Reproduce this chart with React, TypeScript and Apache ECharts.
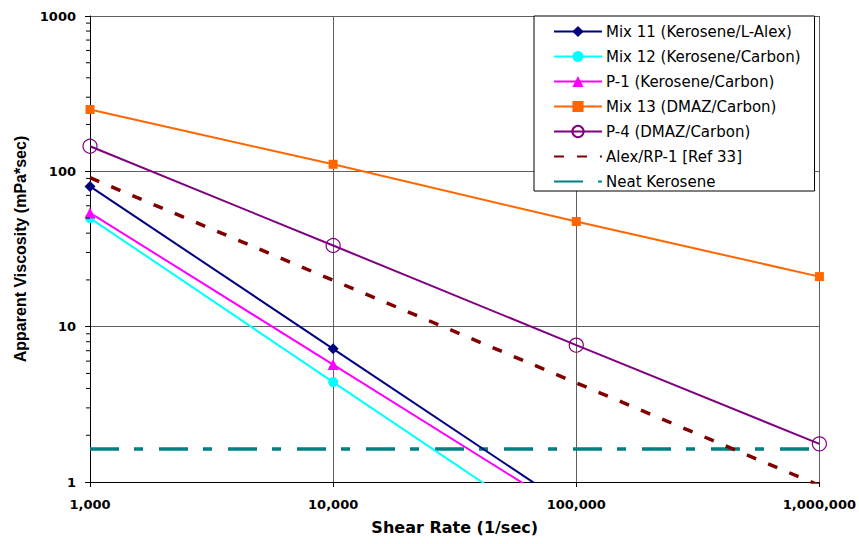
import React, { useEffect, useRef } from "react";
import * as echarts from "echarts";

const shearRates = [1000, 10000, 100000, 1000000];
const mix11 = [80, 7.2, 0.65];
const mix12 = [50, 4.4, 0.39];
const p1 = [54, 5.7, 0.6];
const mix13 = [250, 111, 47.5, 21];
const p4 = [145, 33.3, 7.6, 1.76];
const alexRates = [1000, 1000000];
const alex = [91, 0.95];
const neatRates = [1000, 1000000];
const neat = [1.63, 1.63];
const minorTickValues = [2, 3, 4, 5, 6, 7, 8, 9, 20, 30, 40, 50, 60, 70, 80, 90, 200, 300, 400, 500, 600, 700, 800, 900];

const pair = (xs: number[], ys: number[]) => ys.map((y, i) => [xs[i], y]);

export default function App() {
  const ref = useRef<HTMLDivElement>(null);
  useEffect(() => {
    if (!ref.current) return;
    const chart = echarts.init(ref.current, null, { renderer: "svg" });
    const tickFont = { fontFamily: "DejaVu Sans", fontWeight: "bold" as const, fontSize: 13, color: "#000" };
    chart.setOption({
      animation: false,
      backgroundColor: "#fff",
      grid: { left: 90, right: 38, top: 16, bottom: 62, containLabel: false },
      legend: {
        orient: "vertical",
        left: 534,
        top: 16,
        data: ["Mix 11 (Kerosene/L-Alex)", "Mix 12 (Kerosene/Carbon)", "P-1 (Kerosene/Carbon)", "Mix 13 (DMAZ/Carbon)", "P-4 (DMAZ/Carbon)", "Alex/RP-1 [Ref 33]", "Neat Kerosene"],
        backgroundColor: "#fff",
        borderColor: "#000",
        borderWidth: 1,
        borderRadius: 0,
        padding: [8, 14, 2, 19],
        itemWidth: 48,
        itemHeight: 14,
        itemGap: 10,
        textStyle: { fontFamily: "DejaVu Sans", fontSize: 15, color: "#000", padding: [0, 0, 0, -1] },
      },
      xAxis: {
        type: "log",
        logBase: 10,
        min: 1000,
        max: 1000000,
        name: "Shear Rate (1/sec)",
        nameLocation: "middle",
        nameGap: 37,
        nameTextStyle: { fontFamily: "DejaVu Sans", fontWeight: "bold", fontSize: 16, color: "#000" },
        axisLine: { show: true, lineStyle: { color: "#000", width: 1 } },
        axisTick: { show: true, inside: false, length: 5, lineStyle: { color: "#000" } },
        axisLabel: { ...tickFont, margin: 16, formatter: (v: number) => Number(v).toLocaleString("en-US") },
        splitLine: { show: true, lineStyle: { color: "#606060", width: 1 } },
        minorTick: { show: false },
      },
      yAxis: {
        type: "log",
        logBase: 10,
        min: 1,
        max: 1000,
        name: "Apparent Viscosity (mPa*sec)",
        nameLocation: "middle",
        nameGap: 58,
        nameTextStyle: { fontFamily: "Liberation Sans", fontWeight: "bold", fontSize: 16, color: "#000" },
        axisLine: { show: true, lineStyle: { color: "#000", width: 1 } },
        axisTick: { show: true, inside: false, length: 5, lineStyle: { color: "#000" } },
        axisLabel: { ...tickFont, margin: 14, formatter: (v: number) => String(v) },
        splitLine: { show: true, lineStyle: { color: "#606060", width: 1 } },
      },
      series: [
        {
          name: "Neat Kerosene",
          type: "line",
          data: pair(neatRates, neat),
          showSymbol: false,
          lineStyle: { color: "#008080", width: 3.5, type: [29, 15, 9, 16] },
          itemStyle: { color: "#008080", opacity: 0 },
          z: 2,
        },
        {
          name: "Alex/RP-1 [Ref 33]",
          type: "line",
          data: pair(alexRates, alex),
          showSymbol: false,
          lineStyle: { color: "#800000", width: 3.5, type: [10, 13] },
          itemStyle: { color: "#800000", opacity: 0 },
          z: 2,
        },
        {
          name: "Mix 12 (Kerosene/Carbon)",
          type: "line",
          data: pair(shearRates, mix12),
          symbol: "circle",
          symbolSize: 10,
          lineStyle: { color: "#00FFFF", width: 2 },
          itemStyle: { color: "#00FFFF" },
          z: 3,
        },
        {
          name: "P-1 (Kerosene/Carbon)",
          type: "line",
          data: pair(shearRates, p1),
          symbol: "triangle",
          symbolSize: 11,
          lineStyle: { color: "#FF00FF", width: 2 },
          itemStyle: { color: "#FF00FF" },
          z: 3,
        },
        {
          name: "Mix 11 (Kerosene/L-Alex)",
          type: "line",
          data: pair(shearRates, mix11),
          symbol: "diamond",
          symbolSize: 11,
          lineStyle: { color: "#000080", width: 2 },
          itemStyle: { color: "#000080" },
          z: 3,
        },
        {
          name: "Mix 13 (DMAZ/Carbon)",
          type: "line",
          data: pair(shearRates, mix13),
          symbol: "rect",
          symbolSize: 9,
          lineStyle: { color: "#FF6600", width: 2 },
          itemStyle: { color: "#FF6600" },
          z: 3,
        },
        {
          name: "P-4 (DMAZ/Carbon)",
          type: "line",
          data: pair(shearRates, p4),
          symbol: "circle",
          symbolSize: 14,
          lineStyle: { color: "#800080", width: 2 },
          itemStyle: { color: "rgba(255,255,255,0)", borderColor: "#800080", borderWidth: 1.2 },
          z: 3,
        },
        {
          name: "minor-ticks",
          type: "custom",
          silent: true,
          clip: false,
          data: minorTickValues.map((v) => [1000, v]),
          renderItem: (params: any, api: any) => {
            const p = api.coord([api.value(0), api.value(1)]);
            return {
              type: "line",
              shape: { x1: p[0] - 4, y1: p[1], x2: p[0], y2: p[1] },
              style: { stroke: "#000", lineWidth: 1 },
            };
          },
          z: 4,
        },
      ],
    });
    return () => chart.dispose();
  }, []);
  return <div ref={ref} style={{ width: 859, height: 544, position: "absolute", left: 0, top: 0 }} />;
}
